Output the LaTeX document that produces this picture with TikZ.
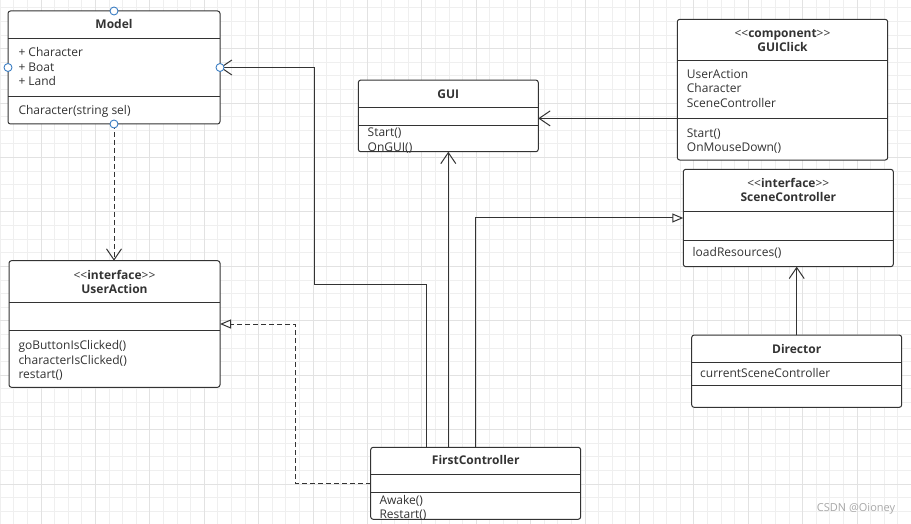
\documentclass[tikz,border=0pt]{standalone}
\usepackage{fontspec}
\setmainfont{Open Sans}
\usetikzlibrary{arrows.meta}
\definecolor{linec}{HTML}{333333}
\definecolor{textc}{HTML}{333333}
\definecolor{gridminor}{HTML}{EFEFEF}
\definecolor{gridmajor}{HTML}{E2E2E2}
\definecolor{portc}{HTML}{3D7FC4}
\definecolor{markc}{HTML}{A8A8A8}
\begin{document}
\begin{tikzpicture}[x=1pt,y=-1pt]
    \tikzstyle{classbox}=[draw=linec, line width=1pt, fill=white, rounded corners=2.5pt, inner sep=0pt, outer sep=0pt]
    \tikzstyle{ttl}=[inner sep=0pt, text height=8pt, text depth=0pt, text=textc, font=\fontsize{12}{14}\selectfont\bfseries]
    \tikzstyle{mbr}=[anchor=west, inner sep=0pt, text height=8pt, text depth=0pt, text=textc, font=\fontsize{12}{14}\selectfont]
    \tikzstyle{sep}=[draw=linec, line width=1pt]
    \tikzstyle{port}=[circle, draw=portc, line width=0.9pt, fill=white, minimum size=8pt, inner sep=0pt]
    \tikzstyle{assoc}=[draw=linec, line width=1pt, -{Straight Barb[length=11pt,width=15pt]}]
    \tikzstyle{dep}=[assoc, dash pattern=on 5pt off 3pt]
    \tikzstyle{gen}=[draw=linec, line width=1pt, -{Triangle[open,length=11pt,width=9pt,fill=white]}]
    \tikzstyle{realize}=[gen, dash pattern=on 5pt off 3pt]
    \useasboundingbox (0,0) rectangle (911,524);
    \fill[white] (0,0) rectangle (911,524);
    % grid
    \foreach \i in {0,...,66} \draw[gridminor, line width=0.8pt] (0.2+13.6*\i,0) -- (0.2+13.6*\i,524);
    \foreach \i in {0,...,38} \draw[gridminor, line width=0.8pt] (0,7.9+13.6*\i) -- (911,7.9+13.6*\i);
    \foreach \i in {0,...,16} \draw[gridmajor, line width=0.8pt] (41+54.4*\i,0) -- (41+54.4*\i,524);
    \foreach \i in {0,...,8} \draw[gridmajor, line width=0.8pt] (0,48.7+54.4*\i) -- (911,48.7+54.4*\i);

    % Model
    \node[classbox, minimum width=212pt, minimum height=113pt] (model) at (114,67.5) {};
    \draw[sep] (model.west |- 0,38.3) -- (model.east |- 0,38.3);
    \draw[sep] (model.west |- 0,96.7) -- (model.east |- 0,96.7);
    \node[ttl] (m0) at (114,24.3) {Model};
    \node[mbr] (m1) at (18.3,52.7) {+ Character};
    \node[mbr] (m2) at (18.3,67.3) {+ Boat};
    \node[mbr] (m3) at (18.3,81.7) {+ Land};
    \node[mbr] (m4) at (18.3,110.3) {Character(string sel)};

    % GUI
    \node[classbox, minimum width=180pt, minimum height=71.7pt] (gui) at (448.3,115.9) {};
    \draw[sep] (gui.west |- 0,107.7) -- (gui.east |- 0,107.7);
    \draw[sep] (gui.west |- 0,125.7) -- (gui.east |- 0,125.7);
    \node[ttl] (g0) at (448.3,94.3) {GUI};
    \node[mbr] (g1) at (367.5,132.3) {Start()};
    \node[mbr] (g2) at (367.5,147.3) {OnGUI()};

    % GUIClick
    \node[classbox, minimum width=210.4pt, minimum height=140.7pt] (guiclick) at (782.5,89.7) {};
    \draw[sep] (guiclick.west |- 0,61) -- (guiclick.east |- 0,61);
    \draw[sep] (guiclick.west |- 0,118.3) -- (guiclick.east |- 0,118.3);
    \node[ttl] (c0) at (782.5,33.3) {\mdseries{<}{<}\bfseries component\mdseries{>}{>}};
    \node[ttl] (c1) at (782.5,47.3) {GUIClick};
    \node[mbr] (c2) at (686.7,74.3) {UserAction};
    \node[mbr] (c3) at (686.7,89) {Character};
    \node[mbr] (c4) at (686.7,103.7) {SceneController};
    \node[mbr] (c5) at (686.7,133.3) {Start()};
    \node[mbr] (c6) at (686.7,147.7) {OnMouseDown()};

    % SceneController
    \node[classbox, minimum width=210pt, minimum height=97.4pt] (scenectrl) at (788.3,218) {};
    \draw[sep] (scenectrl.west |- 0,211.7) -- (scenectrl.east |- 0,211.7);
    \draw[sep] (scenectrl.west |- 0,240) -- (scenectrl.east |- 0,240);
    \node[ttl] (s0) at (788.3,183.3) {\mdseries{<}{<}\bfseries interface\mdseries{>}{>}};
    \node[ttl] (s1) at (788.3,197.7) {SceneController};
    \node[mbr] (s2) at (692.5,252.7) {loadResources()};

    % UserAction
    \node[classbox, minimum width=211pt, minimum height=126.6pt] (useraction) at (114.5,324) {};
    \draw[sep] (useraction.west |- 0,302.3) -- (useraction.east |- 0,302.3);
    \draw[sep] (useraction.west |- 0,330) -- (useraction.east |- 0,330);
    \node[ttl] (u0) at (114.5,275) {\mdseries{<}{<}\bfseries interface\mdseries{>}{>}};
    \node[ttl] (u1) at (114.5,289.3) {UserAction};
    \node[mbr] (u2) at (18.3,345.7) {goButtonIsClicked()};
    \node[mbr] (u3) at (18.3,360) {characterIsClicked()};
    \node[mbr] (u4) at (18.3,374.3) {restart()};

    % Director
    \node[classbox, minimum width=210pt, minimum height=72.3pt] (director) at (796.7,371.2) {};
    \draw[sep] (director.west |- 0,362.7) -- (director.east |- 0,362.7);
    \draw[sep] (director.west |- 0,385) -- (director.east |- 0,385);
    \node[ttl] (d0) at (796.7,349) {Director};
    \node[mbr] (d1) at (700,373.5) {currentSceneController};

    % FirstController
    \node[classbox, minimum width=210pt, minimum height=72pt] (firstctrl) at (475.7,483.3) {};
    \draw[sep] (firstctrl.west |- 0,474.3) -- (firstctrl.east |- 0,474.3);
    \draw[sep] (firstctrl.west |- 0,492.3) -- (firstctrl.east |- 0,492.3);
    \node[ttl] (f0) at (475.7,460.7) {FirstController};
    \node[mbr] (f1) at (379.3,500) {Awake()};
    \node[mbr] (f2) at (379.3,514.7) {Restart()};

    % connectors
    \coordinate (gc) at ([yshift=-28.7pt]guiclick.west);
    \draw[dep] (model.south) -- (model.south |- useraction.north);
    \draw[assoc] ([xshift=56pt]firstctrl.north west) |- (314,284) |- (model.east);
    \draw[assoc] (firstctrl.north -| gui.south) -- (gui.south);
    \draw[gen] ([xshift=104.3pt]firstctrl.north west) |- (scenectrl.west);
    \draw[realize] (firstctrl.west) -- ++(-75.7,0) |- (useraction.east);
    \draw[assoc] (gc) -- (gc -| gui.east);
    \draw[assoc] (director.north) -- (director.north |- scenectrl.south);

    \node[port] (p1) at (model.north) {};
    \node[port] (p2) at (model.west) {};
    \node[port] (p3) at (model.east) {};
    \node[port] (p4) at (model.south) {};

    \node[text=markc, font=\fontsize{11}{13}\selectfont] (wm) at (856,508.5) {CSDN @Oioney};
  \end{tikzpicture}
\end{document}
